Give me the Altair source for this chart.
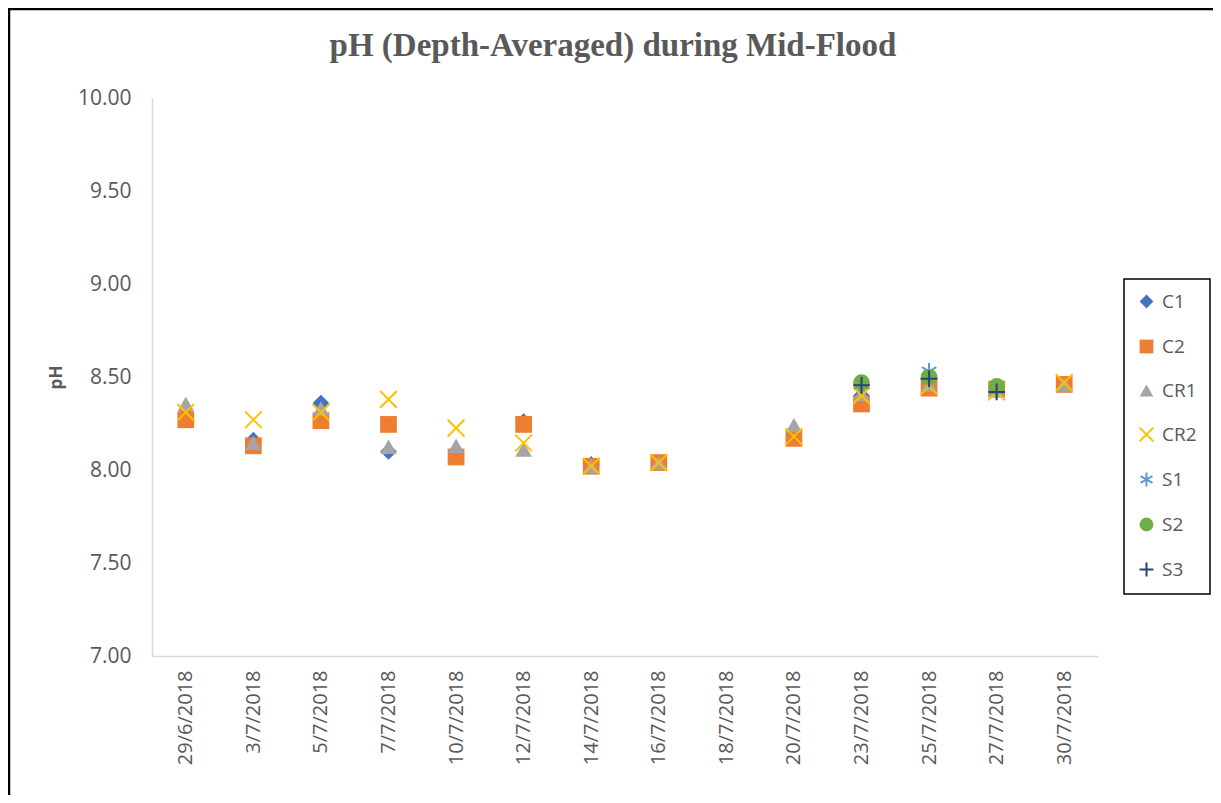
import altair as alt
import pandas as pd

dates = ["29/6/2018", "3/7/2018", "5/7/2018", "7/7/2018", "10/7/2018", "12/7/2018",
         "14/7/2018", "16/7/2018", "18/7/2018", "20/7/2018", "23/7/2018", "25/7/2018",
         "27/7/2018", "30/7/2018"]

series_names = ["C1", "C2", "CR1", "CR2", "S1", "S2", "S3"]

C1 = [8.30, 8.16, 8.36, 8.10, 8.08, 8.26, 8.03, 8.04, None, 8.18, 8.40, 8.46, 8.43, 8.46]
C2 = [8.27, 8.13, 8.265, 8.245, 8.07, 8.245, 8.02, 8.04, None, 8.17, 8.355, 8.44, 8.435, 8.46]
CR1 = [8.355, 8.145, 8.33, 8.125, 8.13, 8.11, 8.02, 8.04, None, 8.24, 8.41, 8.46, 8.43, 8.46]
CR2 = [8.31, 8.27, 8.31, 8.38, 8.225, 8.145, 8.02, 8.04, None, 8.18, 8.40, 8.45, 8.42, 8.47]
S1 = [None, None, None, None, None, None, None, None, None, None, 8.46, 8.53, 8.43, None]
S2 = [None, None, None, None, None, None, None, None, None, None, 8.47, 8.50, 8.45, None]
S3 = [None, None, None, None, None, None, None, None, None, None, 8.455, 8.49, 8.42, None]

y_ticks = [7.0, 7.5, 8.0, 8.5, 9.0, 9.5, 10.0]
title_text = ["pH (Depth-Averaged) during Mid-Flood"]

series_values = [C1, C2, CR1, CR2, S1, S2, S3]
rows = []
for name, vals in zip(series_names, series_values):
    for d, v in zip(dates, vals):
        if v is not None:
            rows.append({"date": d, "series": name, "pH": v})
df = pd.DataFrame(rows)

fill_range = ["#4472C4", "#ED7D31", "#A5A5A5", "transparent", "transparent", "#70AD47", "transparent"]
stroke_range = ["transparent", "transparent", "transparent", "#FFC000", "#5B9BD5", "transparent", "#264478"]
shape_range = [
    "diamond",
    "square",
    "triangle-up",
    "M-1,-1L1,1M-1,1L1,-1",
    "M0,-1L0,1M-0.866,-0.5L0.866,0.5M-0.866,0.5L0.866,-0.5",
    "circle",
    "M-1,0L1,0M0,-1L0,1",
]

TXT = "#595959"
leg = alt.Legend(title=None, orient="none", legendX=972, legendY=181)

points = alt.Chart(df).mark_point(size=280, strokeWidth=2, opacity=1).encode(
    x=alt.X("date:N", sort=dates, scale=alt.Scale(domain=dates, paddingInner=0, paddingOuter=0),
            axis=alt.Axis(title=None, labelAngle=-90, ticks=False, domainColor="#D9D9D9",
                          domainWidth=1.5, labelPadding=14, labelFontSize=20,
                          labelFont="Open Sans", labelColor=TXT, grid=False)),
    y=alt.Y("pH:Q", scale=alt.Scale(domain=[7, 10], nice=False, zero=False),
            axis=alt.Axis(title="pH", values=y_ticks, format=".2f", ticks=False, grid=False,
                          domainColor="#D9D9D9", domainWidth=1.5, labelPadding=21,
                          labelFontSize=21, labelFont="Open Sans", labelColor=TXT,
                          titleFont="Open Sans", titleFontSize=17, titleFontWeight="bold",
                          titleColor=TXT, titlePadding=12)),
    fill=alt.Fill("series:N", sort=series_names,
                  scale=alt.Scale(domain=series_names, range=fill_range), legend=leg),
    stroke=alt.Stroke("series:N", sort=series_names,
                      scale=alt.Scale(domain=series_names, range=stroke_range), legend=leg),
    shape=alt.Shape("series:N", sort=series_names,
                    scale=alt.Scale(domain=series_names, range=shape_range), legend=leg),
)

frame = alt.Chart(pd.DataFrame({"a": [0]})).mark_rect(
    fill="transparent", stroke="black", strokeWidth=2.5
).encode(
    x=alt.value(-143), x2=alt.value(2000), y=alt.value(-89), y2=alt.value(2000)
)

title = alt.Chart(pd.DataFrame({"t": title_text})).mark_text(
    font="Liberation Serif", fontSize=33, fontWeight="bold", color=TXT,
    align="center", baseline="middle"
).encode(text="t:N", x=alt.value(461), y=alt.value(-52))

chart = alt.layer(frame, title, points).properties(
    width=946,
    height=558,
    autosize=alt.AutoSizeParams(type="none"),
    padding={"left": 144, "top": 90, "right": 115, "bottom": 139},
).configure_view(stroke=None).configure_legend(
    strokeColor="black", strokeWidth=1.5, padding=13, rowPadding=22,
    labelFontSize=19, labelFont="Open Sans", labelColor=TXT,
    symbolSize=190, symbolStrokeWidth=2, symbolOpacity=1, labelOffset=6,
    fillColor="white"
)

chart.save("out.html", embed_options={"renderer": "svg", "actions": False})
